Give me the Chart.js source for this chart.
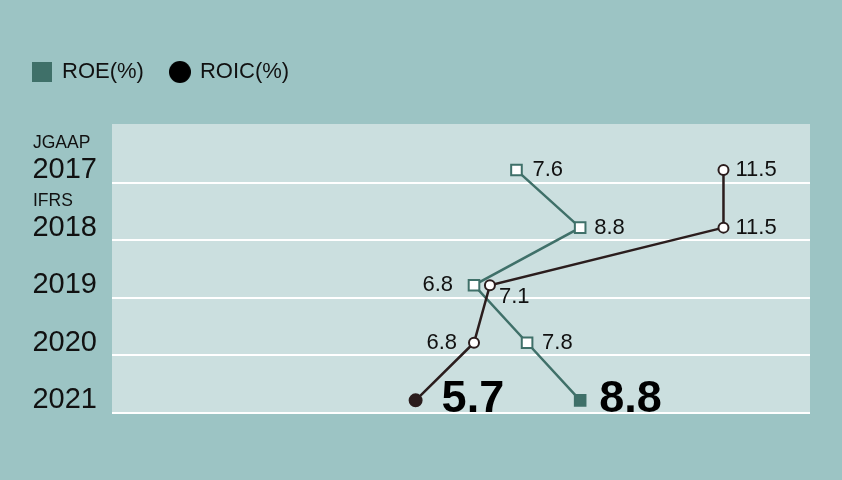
<!DOCTYPE html>
<html>
<head>
<meta charset="utf-8">
<script src="https://cdn.jsdelivr.net/npm/chart.js@4/dist/chart.umd.min.js"></script>
<style>
  html, body { margin: 0; padding: 0; background: #9cc4c4; }
  #wrap { width: 842px; height: 480px; }
</style>
</head>
<body>
<div id="wrap"><canvas id="myChart" width="842" height="480"></canvas></div>
<script>
// values
const years = ["2017", "2018", "2019", "2020", "2021"];
const notes = ["JGAAP", "IFRS"];
const roe = [7.6, 8.8, 6.8, 7.8, 8.8];
const roic = [11.5, 11.5, 7.1, 6.8, 5.7];

const teal = "#3f7069";
const dark = "#2b1d1d";
const font = '"Liberation Sans", Arial, sans-serif';

const last = years.length - 1;

// little canvases for the legend markers
function legendMarker(kind, color) {
  const c = document.createElement("canvas");
  c.width = kind === "rect" ? 20 : 22;
  c.height = c.width;
  const g = c.getContext("2d");
  g.fillStyle = color;
  if (kind === "rect") {
    g.fillRect(0, 0, 20, 20);
  } else {
    g.beginPath();
    g.arc(11, 11, 11, 0, Math.PI * 2);
    g.fill();
  }
  return c;
}

const plotBg = {
  id: "plotBg",
  beforeDraw(chart) {
    const { ctx, chartArea: a } = chart;
    ctx.save();
    ctx.fillStyle = "#cbdfdf";
    ctx.fillRect(a.left, a.top, a.width, a.height);
    ctx.restore();
  }
};

// keep legend height fixed so the plot starts where the reference does
const legendSpace = {
  id: "legendSpace",
  beforeLayout(chart) {
    const lg = chart.legend;
    if (lg && !lg._fixed) {
      const fit = lg.fit;
      lg.fit = function () {
        fit.call(this);
        this.height = 90;
      };
      lg._fixed = true;
    }
  }
};

// JGAAP / IFRS notes over the first two years
const standardNotes = {
  id: "standardNotes",
  afterDraw(chart, args, opts) {
    const ctx = chart.ctx;
    const y = chart.scales.y;
    ctx.save();
    ctx.fillStyle = "#111";
    ctx.font = "17.5px " + font;
    ctx.textAlign = "left";
    ctx.textBaseline = "middle";
    notes.forEach((t, i) => {
      ctx.fillText(t, opts.x, y.getPixelForValue(opts.at[i]));
    });
    ctx.restore();
  }
};

const valueLabels = {
  id: "valueLabels",
  afterDatasetsDraw(chart, args, opts) {
    const ctx = chart.ctx;
    chart.data.datasets.forEach((ds, i) => {
      const meta = chart.getDatasetMeta(i);
      meta.data.forEach((pt, j) => {
        const p = opts.place[i][j];
        const big = j === last;
        ctx.save();
        ctx.fillStyle = big ? "#000" : "#111";
        ctx.font = big ? "bold 45px " + font : "22px " + font;
        ctx.textAlign = p[0] < 0 ? "right" : "left";
        ctx.textBaseline = big ? "alphabetic" : "middle";
        ctx.fillText(ds.data[j].x.toFixed(1), pt.x + p[0], pt.y + p[1]);
        ctx.restore();
      });
    });
  }
};

new Chart("myChart", {
  type: "line",
  data: {
    datasets: [
      {
        label: "ROE(%)",
        order: 1,
        data: years.map((y, i) => ({ x: roe[i], y: i })),
        borderColor: teal,
        borderWidth: 2.5,
        pointStyle: "rect",
        pointRadius: 7.5,
        pointBackgroundColor: c => c.dataIndex === last ? teal : "#fff",
        pointBorderColor: teal,
        pointBorderWidth: 2
      },
      {
        label: "ROIC(%)",
        order: 0,
        data: years.map((y, i) => ({ x: roic[i], y: i })),
        borderColor: dark,
        borderWidth: 2.5,
        pointStyle: "circle",
        pointRadius: c => c.dataIndex === last ? 6 : 5,
        pointBackgroundColor: c => c.dataIndex === last ? dark : "#fff",
        pointBorderColor: dark,
        pointBorderWidth: 2
      }
    ]
  },
  options: {
    responsive: false,
    animation: false,
    layout: { padding: { left: 6, top: 34, right: 32, bottom: 67 } },
    plugins: {
      tooltip: { enabled: false },
      legend: {
        position: "top",
        align: "start",
        labels: {
          usePointStyle: true,
          boxWidth: 18,
          boxHeight: 20,
          padding: 27,
          color: "#111",
          font: { family: font, size: 22 },
          generateLabels: () => [
            { text: "ROE(%)", pointStyle: legendMarker("rect", teal), fontColor: "#111", lineWidth: 0, datasetIndex: 0 },
            { text: "ROIC(%)", pointStyle: legendMarker("circle", "#000"), fontColor: "#111", lineWidth: 0, datasetIndex: 1 }
          ]
        }
      },
      standardNotes: { x: 33, at: [-0.46, 0.535] },
      valueLabels: {
        place: [
          [[16, 0], [14, 0], [-21, 0], [15, 0], [19, 12]],
          [[12, 0], [12, 0], [9, 12], [-17, 0], [26, 12]]
        ]
      }
    },
    scales: {
      x: {
        type: "linear",
        display: false,
        min: -0.02,
        max: 13.13
      },
      y: {
        type: "linear",
        reverse: true,
        min: -0.8,
        max: 4.22,
        afterBuildTicks: s => { s.ticks = [0.22, 1.22, 2.22, 3.22, 4.22].map(v => ({ value: v })); },
        afterFit: s => { s.width = 0; },
        ticks: { display: false },
        border: { display: false },
        grid: { color: "#ffffff", lineWidth: 2, drawTicks: false }
      },
      years: {
        type: "linear",
        position: "left",
        reverse: true,
        min: -0.8,
        max: 4.22,
        afterBuildTicks: s => { s.ticks = years.map((y, i) => ({ value: i })); },
        afterFit: s => { s.width = 106; },
        border: { display: false },
        grid: { display: false, drawTicks: false },
        ticks: {
          autoSkip: false,
          padding: 15,
          color: "#111",
          font: { family: font, size: 29 },
          callback: v => years[v]
        }
      }
    }
  },
  plugins: [plotBg, legendSpace, standardNotes, valueLabels]
});
</script>
</body>
</html>
